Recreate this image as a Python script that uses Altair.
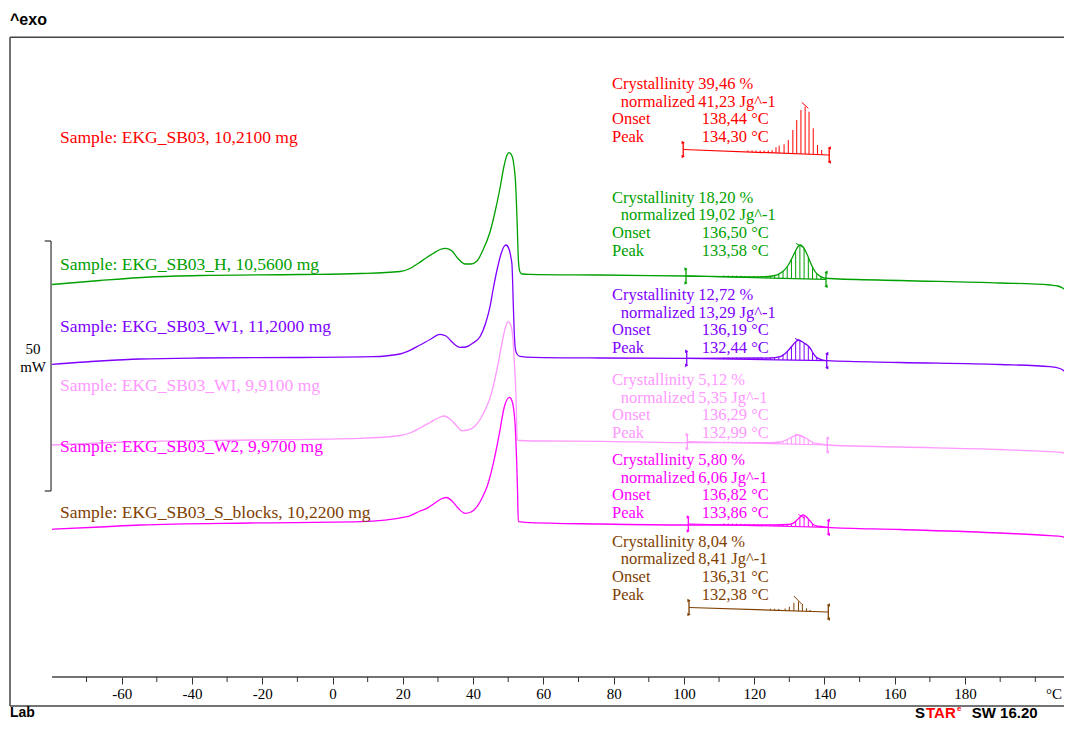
import altair as alt
import pandas as pd
import numpy as np

# ---------------- data ----------------
SAMPLES = ["EKG_SB03", "EKG_SB03_H", "EKG_SB03_W1", "EKG_SB03_WI", "EKG_SB03_W2", "EKG_SB03_S_blocks"]
COLORS = ["#FF0000", "#00A000", "#8000FF", "#FF99FF", "#FF00FF", "#804000"]
MASSES = ["10,2100", "10,5600", "11,2000", "9,9100", "9,9700", "10,2200"]
CRYST = ["39,46", "18,20", "12,72", "5,12", "5,80", "8,04"]
NORM = ["41,23", "19,02", "13,29", "5,35", "6,06", "8,41"]
ONSET = ["138,44", "136,50", "136,19", "136,29", "136,82", "136,31"]
PEAK = ["134,30", "133,58", "132,44", "132,99", "133,86", "132,38"]

# stacked ordinate (mW, arbitrary offsets as in the instrument plot)
LABEL_V = [117.26, 91.8, 79.46, 67.6, 55.34, 42.26]
BLOCK_V = [128.0, 105.26, 85.8, 68.8, 52.8, 36.46]

GREEN_T = [-79.82, -66.17, -51.94, -37.71, -9.25, 7.83, 19.21, 22.05, 24.33, 26.61, 28.60, 30.59, 32.30, 34.01,
           35.71, 37.71, 39.41, 41.12, 42.83, 44.82, 46.24, 47.67, 48.81, 49.66, 50.23, 51.08, 51.65, 52.08, 52.50,
           52.93, 53.36, 53.93, 56.20, 76.12, 100.88, 121.66, 125.93, 127.92, 129.35, 130.48, 131.62, 132.48,
           133.18, 133.89, 134.75, 135.60, 136.45, 137.31, 138.45, 139.87, 141.58, 161.50, 189.95, 204.18, 206.46,
           207.88, 209.02, 209.87]
GREEN_V = [87.9, 88.7, 89.4, 89.7, 89.9, 90.1, 90.5, 91.1, 92.1, 93.2, 94.1, 94.9, 95.14, 94.6, 93.1, 92.0, 92.0,
           92.6, 94.8, 98.4, 102.4, 107.2, 111.6, 113.8, 114.26, 113.6, 111.6, 108.4, 101.2, 92.4, 90.4, 90.0,
           89.94, 89.8, 89.6, 89.44, 89.7, 90.4, 91.4, 92.8, 94.4, 95.5, 95.8, 95.4, 94.4, 93.0, 91.6, 90.5, 89.7,
           89.24, 89.1, 88.7, 88.2, 87.8, 87.6, 87.14, 86.4, 85.46]

PURPLE_T = [-79.82, -66.17, -54.79, -37.71, -9.25, 11.53, 19.21, 21.20, 24.90, 27.75, 30.59, 32.30, 34.01, 36.29,
            37.99, 39.98, 41.97, 43.68, 44.82, 45.67, 46.81, 47.95, 48.81, 49.37, 50.23, 50.80, 51.08, 51.45, 51.79,
            52.08, 52.50, 53.36, 57.06, 76.12, 100.88, 124.50, 127.35, 129.35, 130.77, 131.90, 132.61, 133.32,
            134.18, 135.03, 135.89, 136.74, 137.59, 139.02, 140.72, 161.50, 189.95, 204.18, 207.03, 208.45, 209.87]
PURPLE_V = [71.94, 72.6, 73.0, 73.2, 73.3, 73.46, 74.0, 74.46, 75.8, 76.9, 77.94, 77.6, 76.4, 75.34, 75.4, 76.2,
            77.46, 80.4, 83.46, 86.8, 90.8, 94.0, 95.5, 95.8, 95.0, 93.2, 91.8, 83.8, 77.2, 74.8, 74.0, 73.54,
            73.34, 73.2, 73.14, 73.2, 73.46, 74.46, 75.6, 76.5, 76.8, 76.6, 76.2, 75.8, 75.2, 74.2, 73.4, 72.9,
            72.66, 72.3, 71.9, 71.46, 71.1, 70.46, 69.5]

PINK_T = [-79.82, -66.17, -54.79, -23.48, 7.83, 19.21, 22.05, 24.90, 27.75, 30.02, 31.73, 33.44, 35.14, 36.85,
          38.56, 40.84, 42.26, 43.68, 44.82, 45.96, 47.10, 48.24, 49.09, 50.03, 50.80, 51.37, 51.79, 52.22, 52.59,
          53.36, 59.05, 76.12, 100.88, 124.50, 127.35, 129.05, 130.77, 132.48, 133.89, 135.32, 136.74, 138.73,
          140.72, 161.50, 189.95, 204.18, 207.60, 209.02, 209.87]
PINK_V = [55.8, 56.2, 56.46, 56.8, 57.14, 57.7, 58.2, 59.2, 60.3, 61.2, 61.6, 61.0, 59.8, 58.66, 58.8, 59.8, 61.2,
          63.2, 65.2, 68.2, 72.0, 76.2, 79.0, 80.46, 79.6, 76.8, 71.8, 65.4, 56.8, 56.7, 56.6, 56.54, 56.26, 56.26,
          56.4, 56.8, 57.4, 57.8, 57.5, 56.9, 56.3, 56.0, 55.8, 55.4, 54.9, 54.46, 54.3, 53.9, 53.46]

MAGENTA_T = [-79.82, -66.17, -54.79, -23.48, 7.83, 21.20, 24.90, 26.89, 29.17, 30.88, 32.44, 34.01, 35.71, 37.71,
             39.41, 41.12, 42.83, 43.97, 45.76, 46.81, 47.67, 48.81, 49.66, 50.37, 51.08, 51.65, 51.94, 52.42,
             52.65, 52.87, 54.78, 76.12, 100.88, 125.93, 129.63, 131.05, 132.19, 133.04, 133.89, 134.75, 135.89,
             137.02, 138.73, 140.72, 161.50, 189.95, 204.18, 207.60, 208.74, 209.87]
MAGENTA_V = [38.94, 39.4, 39.8, 40.2, 40.46, 41.46, 42.6, 43.14, 44.2, 45.0, 45.3, 44.6, 43.2, 42.14, 42.4, 43.46,
             45.6, 47.46, 52.14, 55.6, 58.8, 63.2, 64.9, 65.34, 64.6, 62.4, 60.14, 52.14, 46.8, 40.46, 40.34, 40.0,
             39.8, 39.8, 39.9, 40.14, 40.8, 41.4, 41.8, 41.5, 40.6, 39.8, 39.5, 39.34, 38.9, 38.2, 37.66, 37.46,
             37.1, 36.14]

# integration baselines (start / end) per sample
BASE_T0 = [99.80, 100.60, 100.80, 100.97, 101.25, 101.45]
BASE_V0 = [114.9, 89.6, 73.14, 56.46, 40.0, 23.3]
BASE_T1 = [141.35, 140.44, 140.64, 140.81, 141.09, 141.09]
BASE_V1 = [113.8, 88.94, 72.66, 55.8, 39.34, 22.4]

# small peak marker strokes
PK_T0 = [133.5, 131.9, 131.6, 131.6, 132.6, 131.3]
PK_V0 = [124.34, 96.1, 77.1, 58.0, 41.9, 25.6]
PK_T1 = [135.4, 134.2, 133.5, 134.0, 134.5, 133.5]
PK_V1 = [123.14, 95.3, 76.5, 57.3, 41.1, 24.0]

# hatching of the integrated areas (samples whose curve is not drawn)
RED_HATCH_T = [118.2, 119.4, 120.5, 121.7, 122.8, 124.0, 125.1, 126.2, 127.1, 128.5, 129.7, 131.0, 132.1, 133.3,
               134.5, 135.6, 136.8, 138.0, 139.2]
RED_HATCH_TOP = [114.74, 114.72, 114.7, 114.68, 114.68, 114.7, 114.76, 115.34, 115.66, 115.94, 116.8, 118.8,
                 120.8, 122.8, 123.46, 122.46, 119.14, 115.8, 114.8]
BROWN_HATCH_T = [124.6, 125.8, 127.0, 128.8, 130.0, 131.3, 132.6, 133.7, 134.9, 135.9]
BROWN_HATCH_TOP = [22.95, 22.95, 22.95, 23.1, 23.46, 24.26, 24.46, 24.0, 23.14, 22.8]
HATCH_T = [111.4, 112.6, 113.8, 115.0, 116.2, 117.4, 118.6, 119.8, 121.0, 122.2, 123.4, 124.6, 125.8, 127.0,
           128.2, 129.4, 130.6, 131.8, 133.0, 134.2, 135.4, 136.6, 137.8, 139.0]

MAJOR_TICKS = [-60, -40, -20, 0, 20, 40, 60, 80, 100, 120, 140, 160, 180]
MINOR_TICKS = [-70, -50, -30, -10, 10, 30, 50, 70, 90, 110, 130, 150, 170, 190, 200]

# ---------------- layout constants ----------------
W, H = 1056, 713
XS = alt.Scale(domain=[-92.345, 208.159], nice=False, zero=False)
YS = alt.Scale(domain=[0.6, 143.2], nice=False, zero=False)
CS = alt.Scale(domain=SAMPLES, range=COLORS)
AX = alt.Axis(values=MAJOR_TICKS, offset=-44, domain=False, tickSize=7, tickColor="#333333", tickWidth=1,
              labelFont="Liberation Serif", labelFontSize=15, labelColor="#000000", labelPadding=2,
              labelExpr="'' + datum.value", grid=False, title=None, labelOverlap=False, labelFlush=False)
SERIF = "Liberation Serif"
SANS = "Liberation Sans"
FRAME = "#444444"


def X(f):
    return alt.X(f, type="quantitative", scale=XS, axis=AX)


def Y(f):
    return alt.Y(f, type="quantitative", scale=YS, axis=None)


COL = alt.Color("sample:N", scale=CS, legend=None)

# ---------------- tables ----------------
curves = {SAMPLES[1]: (GREEN_T, GREEN_V), SAMPLES[2]: (PURPLE_T, PURPLE_V),
          SAMPLES[3]: (PINK_T, PINK_V), SAMPLES[4]: (MAGENTA_T, MAGENTA_V)}
rows = []
for s, (ts, vs) in curves.items():
    for i, (t, v) in enumerate(zip(ts, vs)):
        rows.append({"sample": s, "T": t, "v": v, "i": i})
curve_df = pd.DataFrame(rows)

base_rows, mark_rows = [], []
for k, s in enumerate(SAMPLES):
    base_rows.append({"sample": s, "T": BASE_T0[k], "v": BASE_V0[k], "i": 0})
    base_rows.append({"sample": s, "T": BASE_T1[k], "v": BASE_V1[k], "i": 1})
    mark_rows.append({"sample": s, "T": BASE_T0[k], "lo": BASE_V0[k] - 1.4, "hi": BASE_V0[k] + 1.4, "side": "L"})
    mark_rows.append({"sample": s, "T": BASE_T1[k], "lo": BASE_V1[k] - 1.4, "hi": BASE_V1[k] + 1.4, "side": "R"})
base_df = pd.DataFrame(base_rows)
mark_df = pd.DataFrame(mark_rows)
tri_rows = []
for r in mark_rows:
    for vv in (r["lo"], r["hi"]):
        tri_rows.append({"sample": r["sample"], "T": r["T"], "v": vv, "side": r["side"]})
tri_df = pd.DataFrame(tri_rows)

hatch_rows = []
for k, s in enumerate(SAMPLES):
    if s in curves:
        ts, vs = curves[s]
        hts = [t for t in HATCH_T if BASE_T0[k] < t < BASE_T1[k]]
        tops = np.interp(hts, ts, vs)
    elif k == 0:
        hts, tops = RED_HATCH_T, RED_HATCH_TOP
    else:
        hts, tops = BROWN_HATCH_T, BROWN_HATCH_TOP
    bots = np.interp(hts, [BASE_T0[k], BASE_T1[k]], [BASE_V0[k], BASE_V1[k]])
    for t, tp, b in zip(hts, tops, bots):
        hatch_rows.append({"sample": s, "T": t, "bot": b, "top": max(tp, b + 0.3)})
hatch_df = pd.DataFrame(hatch_rows)

pk_df = pd.DataFrame({"sample": SAMPLES, "T": PK_T0, "v": PK_V0, "T2": PK_T1, "v2": PK_V1})

lab_df = pd.DataFrame({"sample": SAMPLES, "T": [-77.55] * 6, "v": LABEL_V,
                       "text": [f"Sample: {s}, {m} mg" for s, m in zip(SAMPLES, MASSES)]})

blk = []
for k, s in enumerate(SAMPLES):
    v0 = BLOCK_V[k]
    blk += [
        {"sample": s, "T": 79.54, "v": v0, "text": "Crystallinity"},
        {"sample": s, "T": 104.1, "v": v0, "text": f"{CRYST[k]} %"},
        {"sample": s, "T": 82.02, "v": v0 - 3.54, "text": "normalized"},
        {"sample": s, "T": 104.1, "v": v0 - 3.54, "text": f"{NORM[k]} Jg^-1"},
        {"sample": s, "T": 79.54, "v": v0 - 7.08, "text": "Onset"},
        {"sample": s, "T": 105.07, "v": v0 - 7.08, "text": f"{ONSET[k]} °C"},
        {"sample": s, "T": 79.54, "v": v0 - 10.62, "text": "Peak"},
        {"sample": s, "T": 105.07, "v": v0 - 10.62, "text": f"{PEAK[k]} °C"},
    ]
blk_df = pd.DataFrame(blk)

# ---------------- layers ----------------
frame_h = alt.Chart(pd.DataFrame({"T": [-91.78, -91.78], "T2": [215, 215], "v": [137.34, 3.6]})).mark_rule(
    color=FRAME, strokeWidth=1.5, clip=True).encode(x=X("T"), x2="T2", y=Y("v"))
frame_v = alt.Chart(pd.DataFrame({"T": [-91.78], "v": [3.6], "v2": [137.34]})).mark_rule(
    color=FRAME, strokeWidth=1.5).encode(x=X("T"), y=Y("v"), y2="v2")
axis_line = alt.Chart(pd.DataFrame({"T": [-79.8], "T2": [215], "v": [9.4]})).mark_rule(
    color=FRAME, strokeWidth=1.5, clip=True).encode(x=X("T"), x2="T2", y=Y("v"))
minor = alt.Chart(pd.DataFrame({"T": MINOR_TICKS, "v": [9.4] * len(MINOR_TICKS),
                                "v2": [8.4] * len(MINOR_TICKS)})).mark_rule(
    color="#333333", strokeWidth=1).encode(x=X("T"), y=Y("v"), y2="v2")
degc = alt.Chart(pd.DataFrame({"T": [205.3], "v": [6.0], "text": ["°C"]})).mark_text(
    font=SERIF, fontSize=15, color="#000000", align="center", baseline="middle").encode(
    x=X("T"), y=Y("v"), text="text")

scale_bar = alt.Chart(pd.DataFrame({"T": [-80.1], "v": [46.6], "v2": [96.6]})).mark_rule(
    color="#333333", strokeWidth=1.2).encode(x=X("T"), y=Y("v"), y2="v2")
scale_stub = alt.Chart(pd.DataFrame({"T": [-81.9, -81.9], "T2": [-80.1, -80.1], "v": [46.6, 96.6]})).mark_rule(
    color="#333333", strokeWidth=1.2).encode(x=X("T"), x2="T2", y=Y("v"))
scale_txt = alt.Chart(pd.DataFrame({"T": [-85.2, -85.2], "v": [75.0, 71.4], "text": ["50", "mW"]})).mark_text(
    font=SERIF, fontSize=15, color="#000000", align="center", baseline="middle").encode(
    x=X("T"), y=Y("v"), text="text")

lines = alt.Chart(curve_df).mark_line(strokeWidth=1.3, interpolate="monotone", clip=True).encode(
    x=X("T"), y=Y("v"), color=COL, detail="sample:N", order="i:Q")
baselines = alt.Chart(base_df).mark_line(strokeWidth=1.2).encode(
    x=X("T"), y=Y("v"), color=COL, detail="sample:N", order="i:Q")
hatch = alt.Chart(hatch_df).mark_rule(strokeWidth=1).encode(x=X("T"), y=Y("bot"), y2="top", color=COL)
brackets = alt.Chart(mark_df).mark_rule(strokeWidth=1.3).encode(x=X("T"), y=Y("lo"), y2="hi", color=COL)
tri_l = alt.Chart(tri_df[tri_df.side == "L"]).mark_point(shape="triangle-right", filled=True, size=14,
                                                        opacity=1).encode(x=X("T"), y=Y("v"), color=COL)
tri_r = alt.Chart(tri_df[tri_df.side == "R"]).mark_point(shape="triangle-left", filled=True, size=14,
                                                        opacity=1).encode(x=X("T"), y=Y("v"), color=COL)
pk = alt.Chart(pk_df).mark_rule(strokeWidth=1).encode(x=X("T"), x2="T2", y=Y("v"), y2="v2", color=COL)

labels = alt.Chart(lab_df).mark_text(font=SERIF, fontSize=17.5, align="left", baseline="middle").encode(
    x=X("T"), y=Y("v"), text="text", color=COL)
blocks = alt.Chart(blk_df).mark_text(font=SERIF, fontSize=16.5, align="left", baseline="middle").encode(
    x=X("T"), y=Y("v"), text="text", color=COL)

corner = alt.Chart(pd.DataFrame({"T": [-91.78, -91.78], "v": [140.8, 2.3], "text": ["^exo", "Lab"],
                                 "fs": [16, 14]})).mark_text(
    font=SANS, fontWeight="bold", color="#000000", align="left", baseline="middle").encode(
    x=X("T"), y=Y("v"), text="text", size=alt.Size("fs:Q", scale=None))
star = alt.Chart(pd.DataFrame({"T": [165.76, 168.9, 177.7, 181.9], "v": [2.3, 2.3, 3.1, 2.3],
                               "text": ["S", "TAR", "e", "SW 16.20"],
                               "c": ["#000000", "#FF0000", "#FF0000", "#000000"],
                               "fs": [15, 15, 8, 15]})).mark_text(
    font=SANS, fontWeight="bold", align="left", baseline="middle").encode(
    x=X("T"), y=Y("v"), text="text", color=alt.Color("c:N", scale=None), size=alt.Size("fs:Q", scale=None))

chart = alt.layer(
    frame_h, frame_v, axis_line, minor, degc, scale_bar, scale_stub, scale_txt,
    baselines, hatch, lines, brackets, tri_l, tri_r, pk, labels, blocks, corner, star
).properties(width=W, height=H, padding=0, autosize="none").configure_view(stroke=None).resolve_scale(
    color="independent")

chart.save("out.html", embed_options={"renderer": "svg", "actions": False})
